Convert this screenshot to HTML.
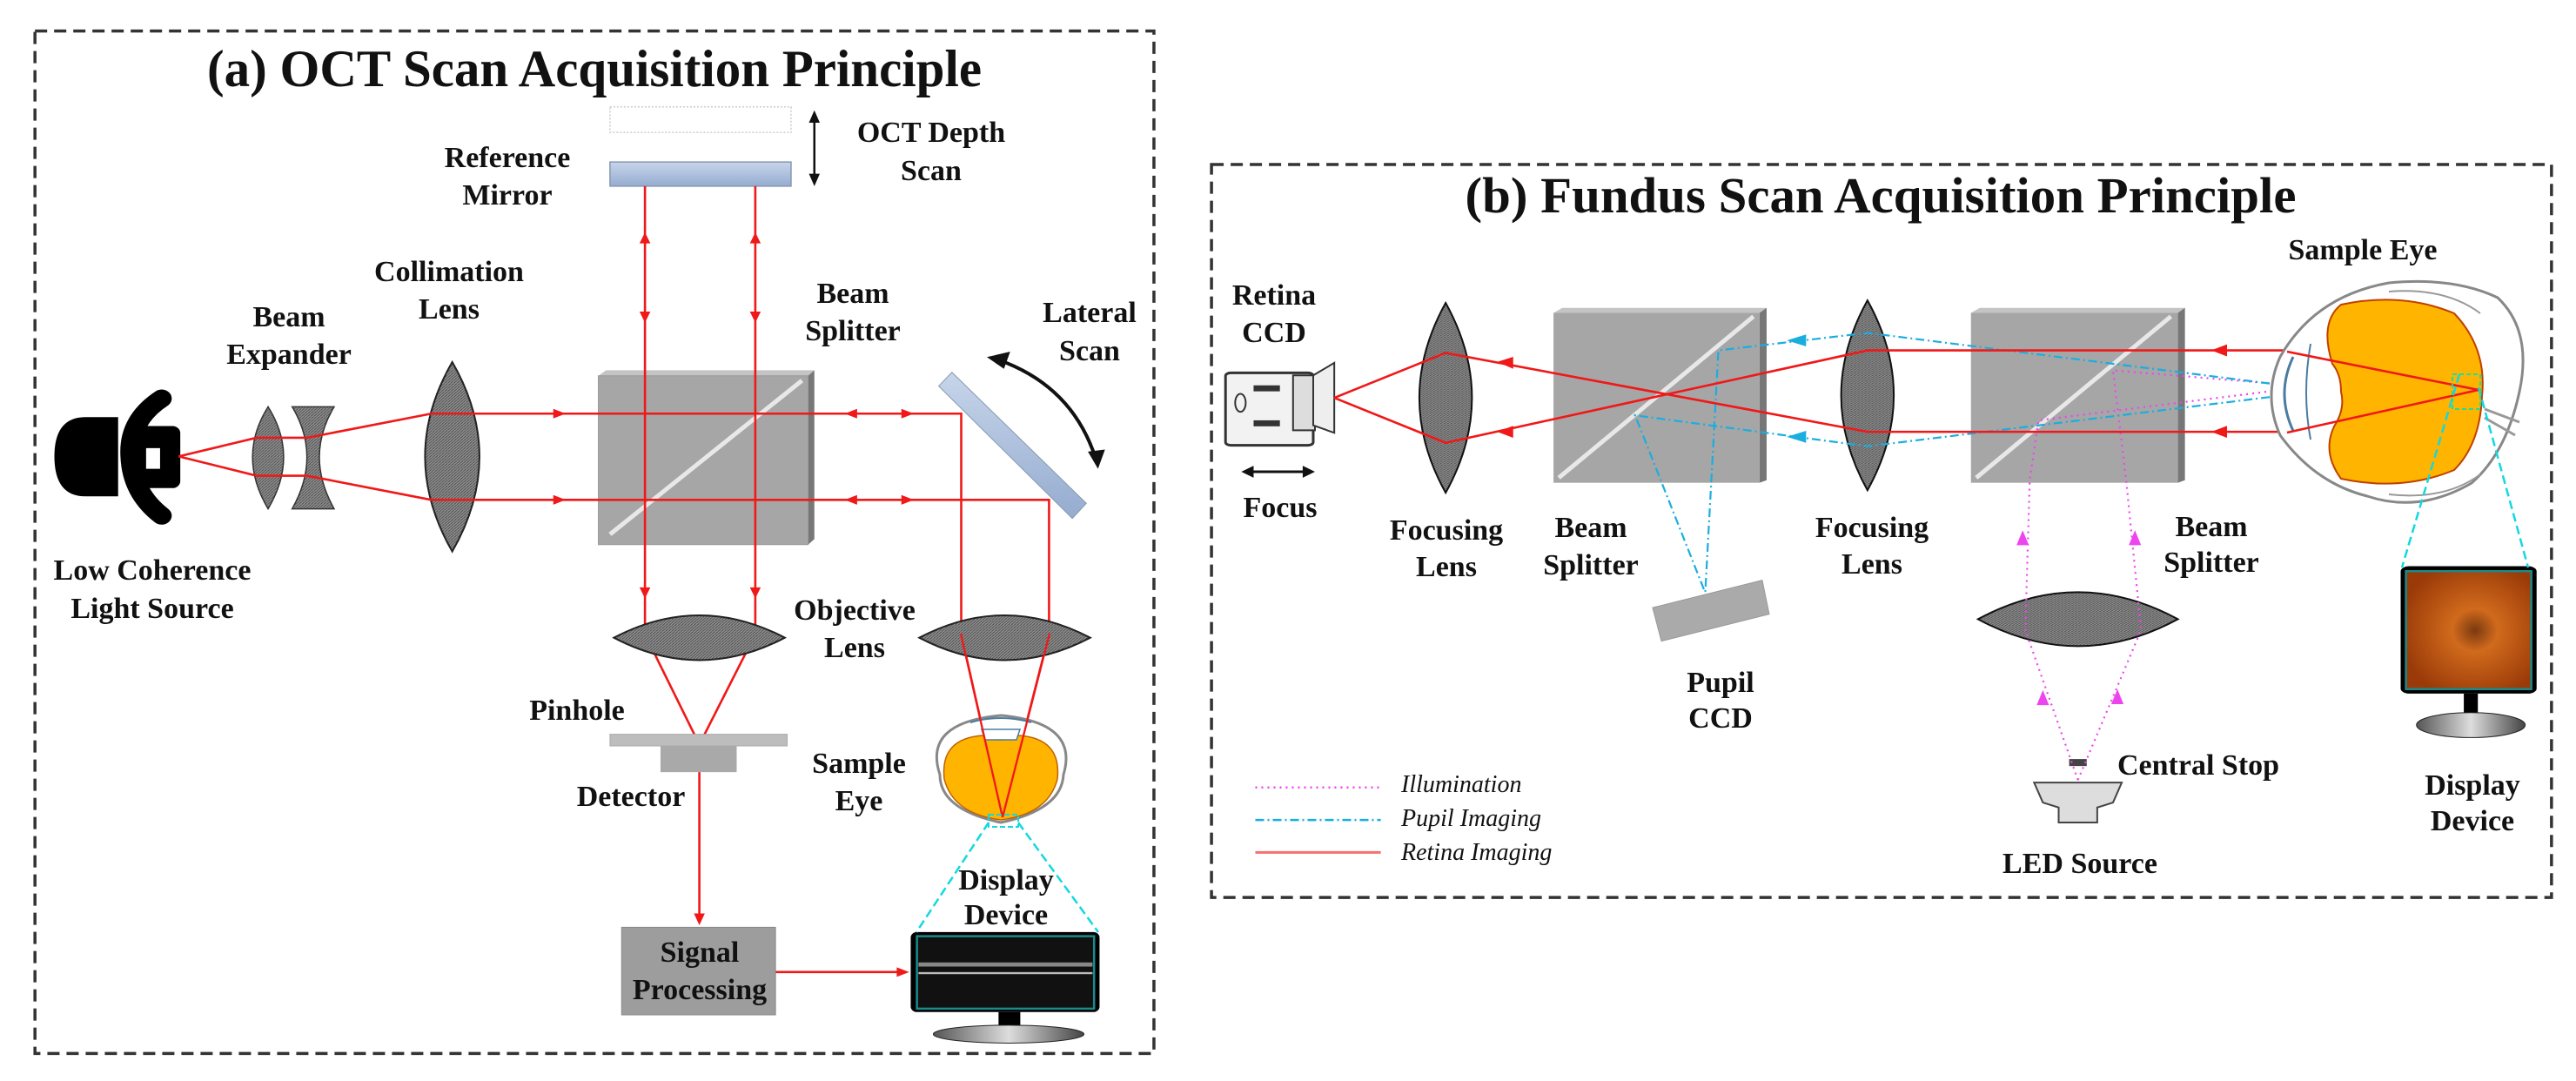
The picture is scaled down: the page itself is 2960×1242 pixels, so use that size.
<!DOCTYPE html>
<html><head><meta charset="utf-8"><style>
html,body{margin:0;padding:0;background:#fff;}
svg{display:block}
text{font-family:"Liberation Serif",serif;font-weight:bold;fill:#111;text-anchor:middle}
</style></head><body>
<svg width="2960" height="1242" viewBox="0 0 2960 1242" xmlns="http://www.w3.org/2000/svg">
<defs>
<pattern id="hat" width="4" height="4" patternUnits="userSpaceOnUse"><rect width="4" height="4" fill="#8f8f8f"/><path d="M0 4L4 0" stroke="#444" stroke-width="1"/></pattern>
<linearGradient id="mir" x1="0" y1="0" x2="0" y2="1"><stop offset="0" stop-color="#c7d5ea"/><stop offset="1" stop-color="#95acd0"/></linearGradient>
<radialGradient id="fund" cx="0.55" cy="0.5" r="0.6"><stop offset="0" stop-color="#7a3a10"/><stop offset="0.3" stop-color="#d06a1c"/><stop offset="1" stop-color="#9a3a08"/></radialGradient>
<linearGradient id="base" x1="0" y1="0" x2="1" y2="0"><stop offset="0" stop-color="#555"/><stop offset="0.5" stop-color="#ddd"/><stop offset="1" stop-color="#444"/></linearGradient>
</defs>

<!-- ============ PANEL A ============ -->
<g transform="scale(0.8929,0.7921)">
<rect x="45" y="45" width="1440" height="1483" fill="none" stroke="#333" stroke-width="3.5" stroke-dasharray="14 8" vector-effect="non-scaling-stroke"/>
<rect x="785" y="155" width="233" height="37" fill="none" stroke="#ccc" stroke-width="1.5" stroke-dasharray="2 2" vector-effect="non-scaling-stroke"/>
<rect x="785" y="235" width="233" height="35" fill="url(#mir)" stroke="#8898b0" stroke-width="1.5" vector-effect="non-scaling-stroke"/>
<line x1="1048" y1="170" x2="1048" y2="260" stroke="#111" stroke-width="2.5" vector-effect="non-scaling-stroke"/>
<polygon points="1048,160 1041,178 1055,178" fill="#111"/><polygon points="1048,270 1041,252 1055,252" fill="#111"/>
<path d="M152,605 L110,605 Q70,605 70,662 Q70,720 110,720 L152,720 Z" fill="#000"/>
<path d="M208,578 Q165,610 168,662 Q170,715 208,748" fill="none" stroke="#000" stroke-width="26" stroke-linecap="round"/>
<rect x="172" y="618" width="60" height="90" rx="10" fill="#000"/>
<rect x="188" y="650" width="18" height="30" fill="#fff"/>
<path d="M345,590 Q385,662 345,738 Q305,662 345,590Z" fill="url(#hat)" stroke="#333" stroke-width="1.5" vector-effect="non-scaling-stroke"/>
<path d="M376,590 L430,590 Q392,662 430,738 L376,738 Q414,662 376,590Z" fill="url(#hat)" stroke="#333" stroke-width="1.5" vector-effect="non-scaling-stroke"/>
<path d="M582,525 Q652,662 582,800 Q512,662 582,525Z" fill="url(#hat)" stroke="#222" stroke-width="2" vector-effect="non-scaling-stroke"/>
<polygon points="770,545 780,537 1048,537 1040,545" fill="#c4c4c4"/>
<polygon points="1040,545 1048,537 1048,782 1040,790" fill="#777"/>
<rect x="770" y="545" width="270" height="245" fill="#a6a6a6" stroke="#999" vector-effect="non-scaling-stroke"/>
<line x1="785" y1="775" x2="1032" y2="552" stroke="#e8e8e8" stroke-width="5" vector-effect="non-scaling-stroke"/>
<polygon points="1225,540 1398,730 1380,752 1208,560" fill="url(#mir)" stroke="#8898b0" vector-effect="non-scaling-stroke"/>
<path d="M1285,522 Q1380,560 1410,665" fill="none" stroke="#111" stroke-width="4" vector-effect="non-scaling-stroke"/>
<polygon points="1270,518 1300,510 1292,535" fill="#111"/><polygon points="1413,680 1400,655 1422,652" fill="#111"/>
<g fill="none" stroke="#f01818" stroke-width="2.6">
<polyline points="230,662 330,635 395,635 555,600 1237,600 1237,920 1290,1185" vector-effect="non-scaling-stroke"/>
<polyline points="230,662 330,690 395,690 555,725 1350,725 1350,920 1290,1185" vector-effect="non-scaling-stroke"/>
<polyline points="830,270 830,920 900,1080 972,920 972,270" vector-effect="non-scaling-stroke"/>
<line x1="900" y1="1120" x2="900" y2="1330" vector-effect="non-scaling-stroke"/>
<line x1="998" y1="1410" x2="1160" y2="1410" vector-effect="non-scaling-stroke"/>
</g>
<g fill="#f01818">
<polygon points="728,600 712,593 712,607"/><polygon points="728,725 712,718 712,732"/>
<polygon points="1087,600 1103,593 1103,607"/><polygon points="1176,600 1160,593 1160,607"/>
<polygon points="1087,725 1103,718 1103,732"/><polygon points="1176,725 1160,718 1160,732"/>
<polygon points="830,337 823,353 837,353"/><polygon points="972,337 965,353 979,353"/>
<polygon points="830,468 823,452 837,452"/><polygon points="972,468 965,452 979,452"/>
<polygon points="830,868 823,852 837,852"/><polygon points="972,868 965,852 979,852"/>
<polygon points="900,1342 893,1325 907,1325"/><polygon points="1170,1410 1154,1403 1154,1417"/>
</g>
<path d="M790,925 Q900,860 1010,925 Q900,990 790,925Z" fill="url(#hat)" stroke="#222" stroke-width="2" vector-effect="non-scaling-stroke"/>
<path d="M1183,925 Q1293,860 1403,925 Q1293,990 1183,925Z" fill="url(#hat)" stroke="#222" stroke-width="2" vector-effect="non-scaling-stroke"/>
<rect x="785" y="1065" width="228" height="17" fill="#bdbdbd" stroke="#aaa" vector-effect="non-scaling-stroke"/>
<rect x="850" y="1082" width="98" height="38" fill="#a9a9a9"/>
<rect x="800" y="1345" width="198" height="127" fill="#9d9d9d" stroke="#888" vector-effect="non-scaling-stroke"/>
<rect x="1172" y="1352" width="243" height="116" rx="8" fill="#000"/>
<rect x="1180" y="1358" width="228" height="105" fill="#111" stroke="#1a8a8a" stroke-width="2.5" vector-effect="non-scaling-stroke"/>
<rect x="1182" y="1396" width="224" height="6" fill="#888"/><rect x="1182" y="1410" width="224" height="3" fill="#bbb"/>
<rect x="1285" y="1468" width="28" height="28" fill="#000"/>
<ellipse cx="1298" cy="1500" rx="97" ry="13" fill="url(#base)" stroke="#222" vector-effect="non-scaling-stroke"/>
</g>

<g>
<path d="M1090,855 Q1150,815 1215,855" fill="none" stroke="#999" stroke-width="3"/>
<path d="M1080,890 Q1060,830 1150,822 Q1240,830 1222,890 Q1220,930 1150,945 Q1080,930 1080,890Z" fill="#fff" stroke="#888" stroke-width="3"/>
<path d="M1085,895 Q1080,848 1130,845 Q1140,850 1150,850 Q1160,850 1170,845 Q1220,848 1215,895 Q1205,935 1150,942 Q1095,935 1085,895Z" fill="#ffb400" stroke="#c06000" stroke-width="1.5"/>
<path d="M1128,838 L1172,838 L1168,850 L1132,850Z" fill="#fff" stroke="#4a7da0" stroke-width="1.5"/>
<path d="M1115,830 Q1150,820 1185,830" fill="none" stroke="#4a7da0" stroke-width="2"/>
<g stroke="#f01818" stroke-width="2.3"><line x1="1104" y1="728" x2="1152" y2="939"/><line x1="1206" y1="728" x2="1152" y2="939"/></g>
<rect x="1136" y="936" width="34" height="14" fill="none" stroke="#14d8e0" stroke-width="2" stroke-dasharray="6 3"/>
<g stroke="#14d8e0" stroke-width="2.5" stroke-dasharray="10 5"><line x1="1136" y1="945" x2="1053" y2="1071"/><line x1="1170" y1="945" x2="1262" y2="1071"/></g>
</g>

<text x="683" y="99" font-size="60" textLength="890" lengthAdjust="spacingAndGlyphs">(a) OCT Scan Acquisition Principle</text>
<g font-size="34">
<text x="1070" y="163">OCT Depth</text><text x="1070" y="207">Scan</text>
<text x="583" y="192">Reference</text><text x="583" y="235">Mirror</text>
<text x="516" y="323">Collimation</text><text x="516" y="366">Lens</text>
<text x="332" y="375">Beam</text><text x="332" y="418">Expander</text>
<text x="980" y="348">Beam</text><text x="980" y="391">Splitter</text>
<text x="1252" y="370">Lateral</text><text x="1252" y="414">Scan</text>
<text x="175" y="666">Low Coherence</text><text x="175" y="710">Light Source</text>
<text x="982" y="712">Objective</text><text x="982" y="755">Lens</text>
<text x="663" y="827">Pinhole</text>
<text x="725" y="926">Detector</text>
<text x="987" y="888">Sample</text><text x="987" y="931">Eye</text>
<text x="1156" y="1022">Display</text><text x="1156" y="1062">Device</text>
<text x="804" y="1105">Signal</text><text x="804" y="1148">Processing</text>
</g>

<!-- ============ PANEL B ============ -->
<g transform="translate(1380,150) scale(1.0077,0.574)">
<rect x="12" y="68" width="1528" height="1467" fill="none" stroke="#333" stroke-width="3.5" stroke-dasharray="14 8" vector-effect="non-scaling-stroke"/>
<rect x="28" y="485" width="100" height="145" rx="6" fill="#f2f2f2" stroke="#333" stroke-width="3" vector-effect="non-scaling-stroke"/>
<rect x="105" y="490" width="25" height="110" fill="#ddd" stroke="#333" stroke-width="2" vector-effect="non-scaling-stroke"/>
<polygon points="128,490 152,465 152,605 128,590" fill="#eee" stroke="#333" stroke-width="2" vector-effect="non-scaling-stroke"/>
<rect x="60" y="510" width="30" height="12" fill="#333"/><rect x="60" y="580" width="30" height="12" fill="#333"/>
<ellipse cx="45" cy="545" rx="6" ry="18" fill="none" stroke="#333" stroke-width="2" vector-effect="non-scaling-stroke"/>
<line x1="55" y1="683" x2="120" y2="683" stroke="#111" stroke-width="3" vector-effect="non-scaling-stroke"/>
<polygon points="46,683 60,671 60,695" fill="#111"/><polygon points="130,683 116,671 116,695" fill="#111"/>
<path d="M279,345 Q339,535 279,725 Q219,535 279,345Z" fill="url(#hat)" stroke="#111" stroke-width="2" vector-effect="non-scaling-stroke"/>
<path d="M760,340 Q820,530 760,720 Q700,530 760,340Z" fill="url(#hat)" stroke="#111" stroke-width="2" vector-effect="non-scaling-stroke"/>
<polygon points="402,365 412,355 645,355 645,365" fill="#c4c4c4"/><polygon points="637,365 645,355 645,700 637,705" fill="#777"/>
<rect x="402" y="365" width="235" height="340" fill="#a6a6a6"/>
<line x1="408" y1="695" x2="630" y2="372" stroke="#e8e8e8" stroke-width="5" vector-effect="non-scaling-stroke"/>
<polygon points="878,365 888,355 1122,355 1122,365" fill="#c4c4c4"/><polygon points="1114,365 1122,355 1122,700 1114,705" fill="#777"/>
<rect x="878" y="365" width="236" height="340" fill="#a6a6a6"/>
<line x1="884" y1="695" x2="1106" y2="372" stroke="#e8e8e8" stroke-width="5" vector-effect="non-scaling-stroke"/>
<polygon points="515,955 640,900 648,968 525,1022" fill="#aaa" stroke="#999" vector-effect="non-scaling-stroke"/>
<path d="M886,978 Q1000,870 1114,978 Q1000,1086 886,978Z" fill="url(#hat)" stroke="#111" stroke-width="2" vector-effect="non-scaling-stroke"/>
<rect x="990" y="1258" width="20" height="14" fill="#444"/>
<path d="M950,1305 L1050,1305 L1040,1345 L1022,1355 L1022,1385 L978,1385 L978,1355 L960,1345Z" fill="#ddd" stroke="#444" stroke-width="2" vector-effect="non-scaling-stroke"/>
<g fill="none" stroke="#ee44ee" stroke-width="2.2" stroke-dasharray="2 5">
<polyline points="1000,1300 940,1000 945,700 955,580 1455,470" vector-effect="non-scaling-stroke"/>
<polyline points="1000,1300 1072,1000 1055,700 1040,480 1455,540" vector-effect="non-scaling-stroke"/>
</g>
<g fill="#ee44ee"><polygon points="937,800 930,830 944,830"/><polygon points="1065,800 1058,830 1072,830"/>
<polygon points="960,1120 953,1150 967,1150"/><polygon points="1045,1118 1038,1148 1052,1148"/></g>
<g fill="none" stroke="#1aaee0" stroke-width="2.2" stroke-dasharray="10 4 2 4">
<polyline points="1258,515 760,405 590,440 575,925" vector-effect="non-scaling-stroke"/>
<polyline points="1258,525 760,632 495,570 575,925" vector-effect="non-scaling-stroke"/>
</g>
<g fill="#1aaee0"><polygon points="668,420 690,408 690,432"/><polygon points="668,613 690,601 690,625"/></g>
<g fill="none" stroke="#f01818" stroke-width="2.6">
<polyline points="152,535 279,445 760,603 1240,603" vector-effect="non-scaling-stroke"/>
<polyline points="152,535 279,625 760,440 1240,440" vector-effect="non-scaling-stroke"/>
</g>
<g fill="#f01818"><polygon points="338,463 356,453 356,477"/><polygon points="338,603 356,591 356,615"/>
<polygon points="1152,440 1170,428 1170,452"/><polygon points="1152,603 1170,591 1170,615"/></g>
<rect x="1368" y="872" width="155" height="255" rx="10" fill="#000"/>
<rect x="1374" y="882" width="143" height="236" fill="url(#fund)" stroke="#1a8a8a" stroke-width="2.5" vector-effect="non-scaling-stroke"/>
<rect x="1440" y="1127" width="16" height="62" fill="#000"/>
<ellipse cx="1448" cy="1190" rx="62" ry="25" fill="url(#base)" stroke="#222" vector-effect="non-scaling-stroke"/>
<line x1="62" y1="1315" x2="205" y2="1315" stroke="#ee44ee" stroke-width="2.5" stroke-dasharray="2 5" vector-effect="non-scaling-stroke"/>
<line x1="62" y1="1380" x2="205" y2="1380" stroke="#1aaee0" stroke-width="2.5" stroke-dasharray="10 4 2 4" vector-effect="non-scaling-stroke"/>
<line x1="62" y1="1445" x2="205" y2="1445" stroke="#f57070" stroke-width="3" vector-effect="non-scaling-stroke"/>
</g>

<g>
<path d="M2745,325 Q2820,318 2870,342 Q2910,380 2895,450 Q2880,520 2840,555 Q2780,590 2720,570 Q2660,555 2620,500 Q2600,455 2620,410 Q2660,340 2745,325Z" fill="#fff" stroke="#888" stroke-width="3"/>
<path d="M2745,335 Q2810,330 2850,360" fill="none" stroke="#999" stroke-width="2"/>
<path d="M2745,568 Q2810,575 2850,545" fill="none" stroke="#999" stroke-width="2"/>
<path d="M2690,350 Q2760,335 2820,360 Q2858,400 2852,455 Q2850,510 2820,540 Q2760,565 2690,550 Q2668,520 2682,490 Q2695,470 2690,450 Q2690,430 2680,418 Q2665,370 2690,350Z" fill="#ffb400" stroke="#c04000" stroke-width="2"/>
<path d="M2635,410 Q2615,452 2635,495" fill="none" stroke="#4a7da0" stroke-width="3"/>
<path d="M2655,395 Q2645,452 2655,505" fill="none" stroke="#4a7da0" stroke-width="2"/>
<path d="M2855,470 L2895,485 M2855,480 L2890,500" stroke="#999" stroke-width="3"/>
<g stroke="#f01818" stroke-width="2.6"><line x1="2628" y1="404" x2="2848" y2="448"/><line x1="2628" y1="497" x2="2848" y2="448"/></g>
<g stroke="#14d8e0" stroke-width="2.5" stroke-dasharray="10 5"><line x1="2826" y1="430" x2="2760" y2="652"/><line x1="2848" y1="445" x2="2905" y2="652"/></g>
<rect x="2818" y="430" width="32" height="40" fill="none" stroke="#22dd99" stroke-width="2" stroke-dasharray="5 3"/>
</g>

<text x="2161" y="244" font-size="58" textLength="955" lengthAdjust="spacingAndGlyphs">(b) Fundus Scan Acquisition Principle</text>
<g font-size="34">
<text x="2715" y="298">Sample Eye</text>
<text x="1464" y="350">Retina</text><text x="1464" y="393">CCD</text>
<text x="1471" y="594">Focus</text>
<text x="1662" y="620">Focusing</text><text x="1662" y="662">Lens</text>
<text x="1828" y="617">Beam</text><text x="1828" y="660">Splitter</text>
<text x="2151" y="617">Focusing</text><text x="2151" y="659">Lens</text>
<text x="2541" y="616">Beam</text><text x="2541" y="657">Splitter</text>
<text x="1977" y="795">Pupil</text><text x="1977" y="836">CCD</text>
<text x="2433" y="890" style="text-anchor:start">Central Stop</text>
<text x="2390" y="1003">LED Source</text>
<text x="2841" y="913">Display</text><text x="2841" y="954">Device</text>
</g>
<g font-size="28" font-style="italic">
<text x="1610" y="910" style="text-anchor:start;font-weight:normal">Illumination</text>
<text x="1610" y="949" style="text-anchor:start;font-weight:normal">Pupil Imaging</text>
<text x="1610" y="988" style="text-anchor:start;font-weight:normal">Retina Imaging</text>
</g>
</svg>
</body></html>
